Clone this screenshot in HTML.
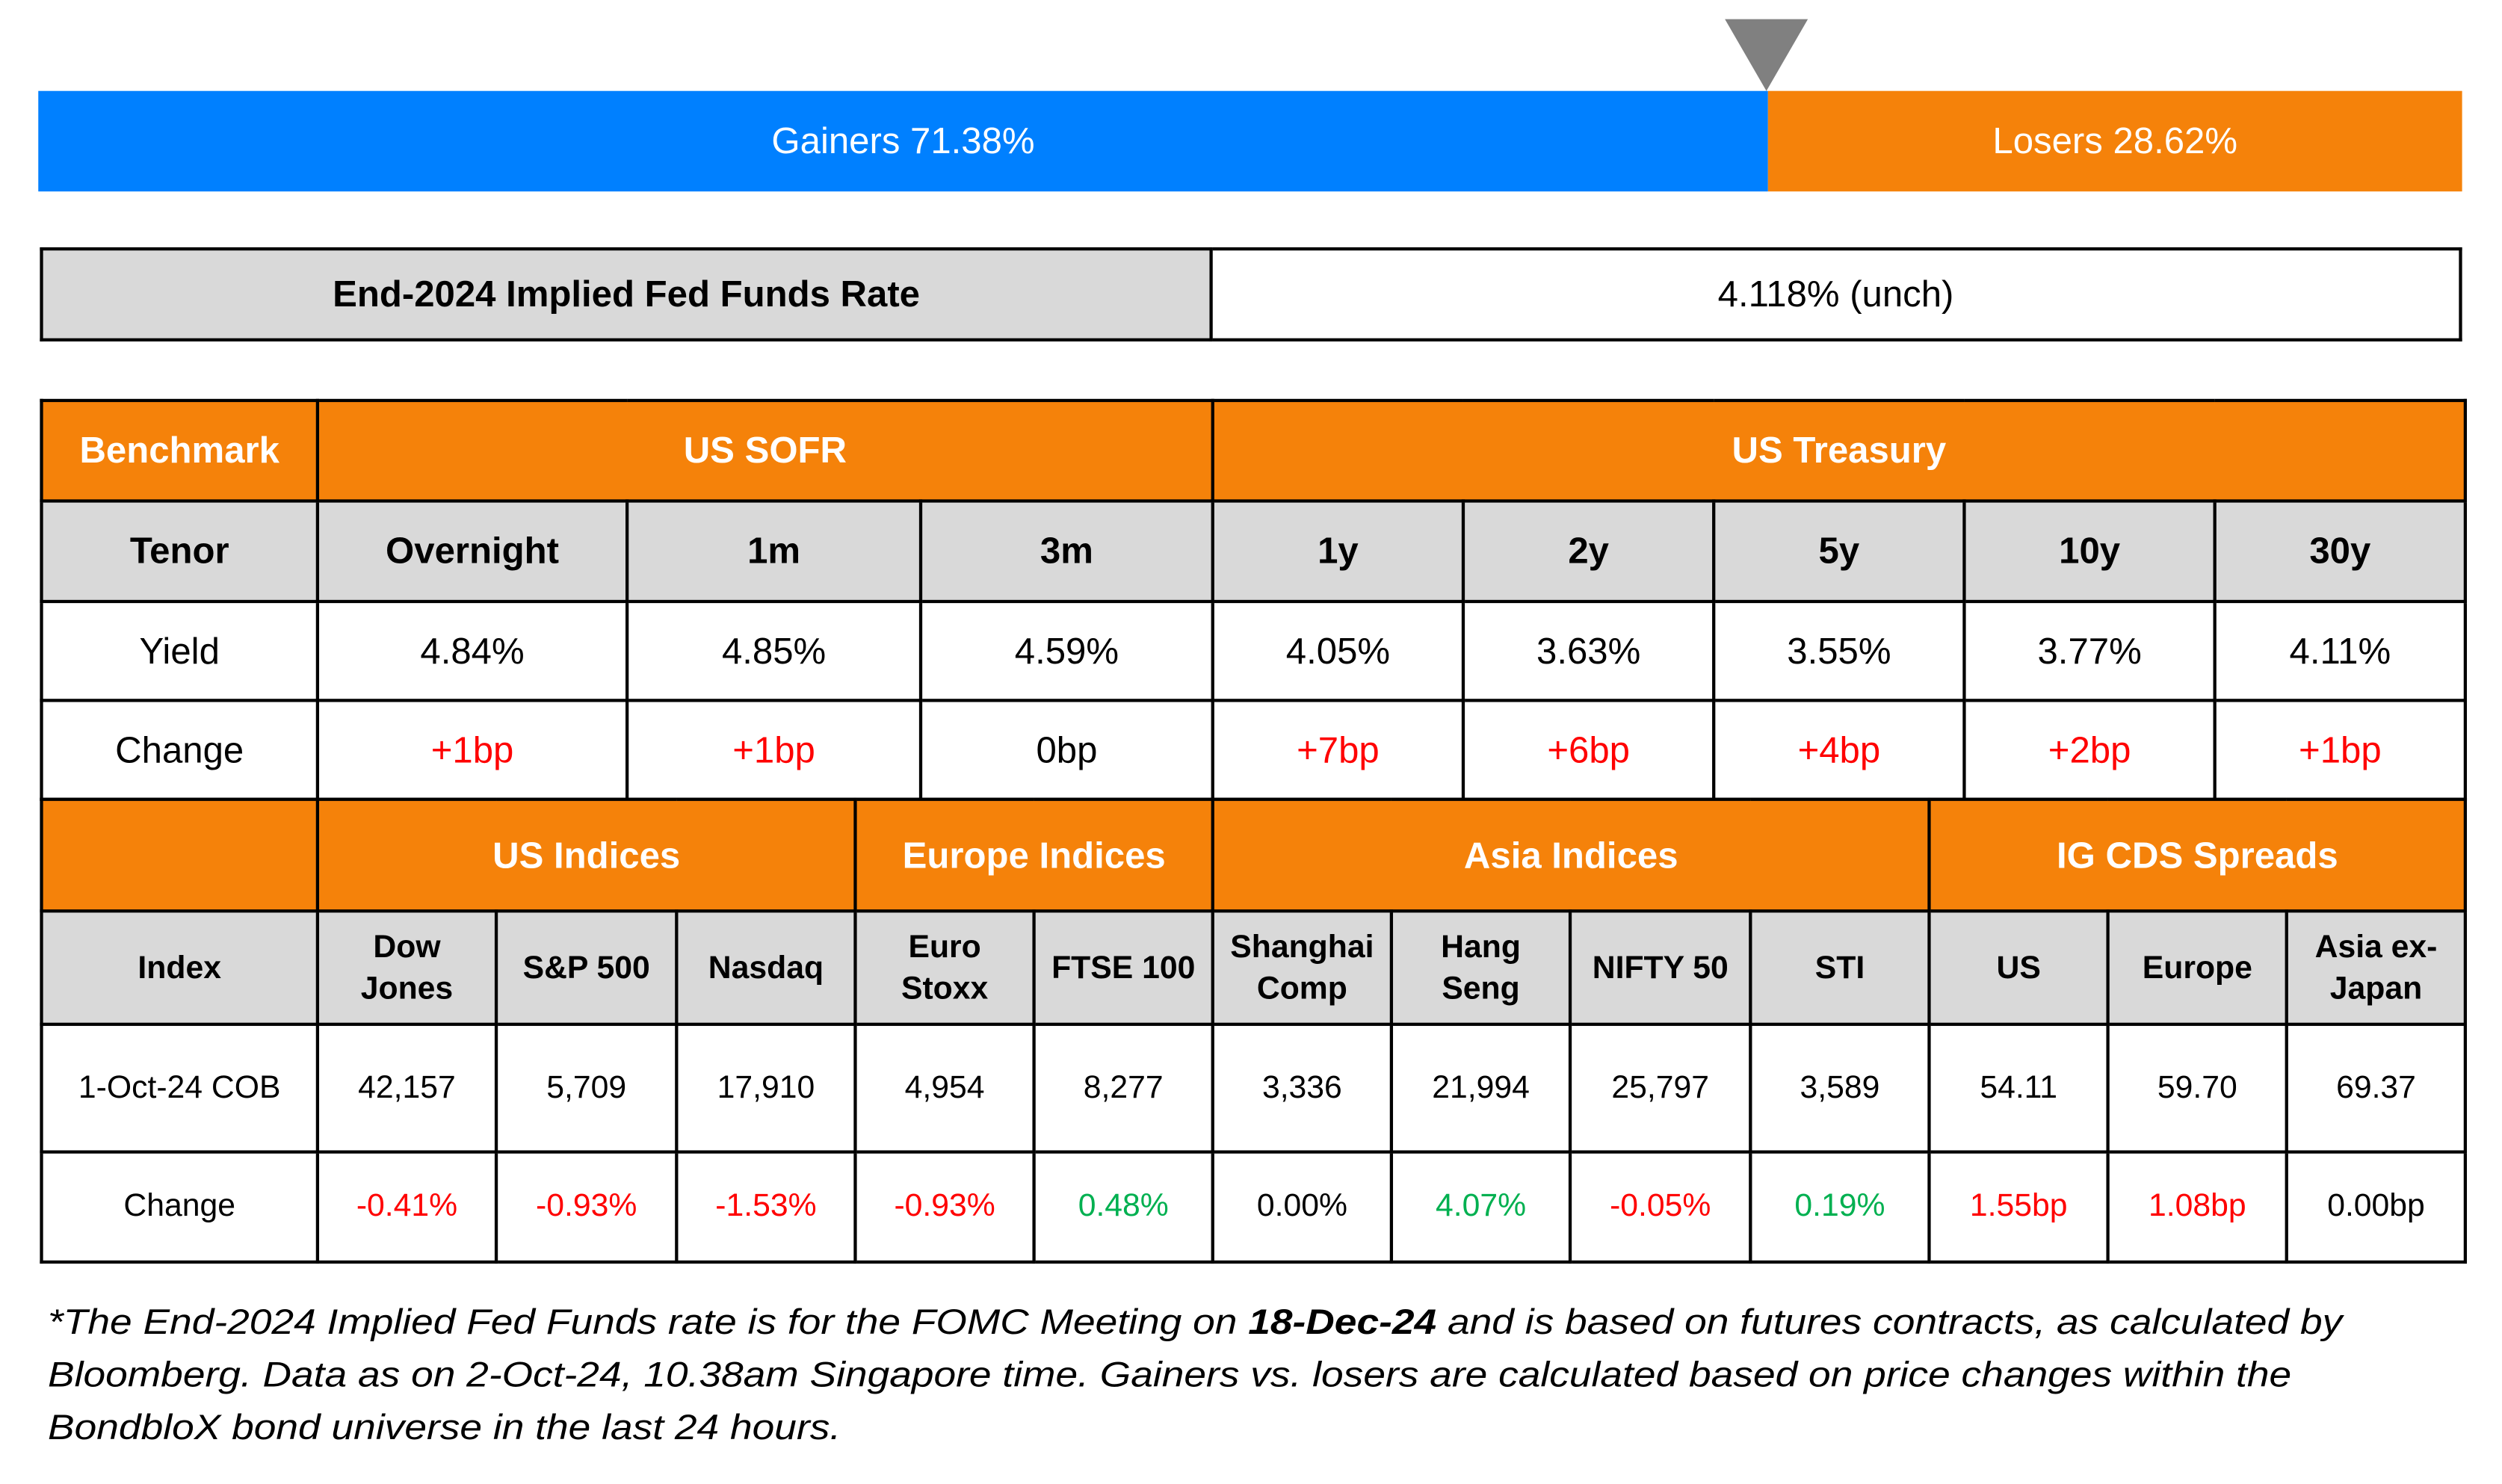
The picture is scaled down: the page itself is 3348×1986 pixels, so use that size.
<!DOCTYPE html>
<html><head><meta charset="utf-8"><style>
html,body{margin:0;padding:0;background:#fff;}
body{width:3348px;height:1984px;overflow:hidden;position:relative;}
#w{position:absolute;left:0;top:0;width:1568px;height:930px;transform:scale(2.1352);transform-origin:0 0;font-family:"Liberation Sans",sans-serif;}
.a{position:absolute;box-sizing:border-box;}
table{position:absolute;border-collapse:collapse;table-layout:fixed;}
td{border:2px solid #000;text-align:center;padding:0;box-sizing:border-box;}
.o{background:#f5820a;color:#fff;font-weight:bold;font-size:23px;}
.g{background:#d9d9d9;font-weight:bold;}
.r{color:#f00;}.gr{color:#00b050;}
#t1 td{font-size:23px;}
#t2 td{font-size:20px;}
#t2 tr.g td{font-size:20px;line-height:1.3;}
#t2 tr.o td{font-size:23px;}
</style></head><body><div id="w">
<div class="a" style="left:24px;top:57px;width:1084px;height:63px;background:#0080ff;color:#fff;font-size:23px;line-height:63px;text-align:center;">Gainers 71.38%</div>
<div class="a" style="left:1108px;top:57px;width:435px;height:63px;background:#f5820a;color:#fff;font-size:23px;line-height:63px;text-align:center;">Losers 28.62%</div>
<div class="a" style="left:1081px;top:12px;width:0;height:0;border-left:26px solid transparent;border-right:26px solid transparent;border-top:45px solid #808080;"></div>
<table style="left:25px;top:155px;width:1518px;height:59px;">
<tr><td class="g" style="width:733px;font-size:23px;">End-2024 Implied Fed Funds Rate</td><td style="font-size:23px;">4.118% (unch)</td></tr></table>
<table id="t1" style="left:25px;top:250px;width:1519px;">
<colgroup><col style="width:173px"><col style="width:194px"><col style="width:184px"><col style="width:183px"><col style="width:157px"><col style="width:157px"><col style="width:157px"><col style="width:157px"><col style="width:157px"></colgroup>
<tr class="o" style="height:63px"><td>Benchmark</td><td colspan="3">US SOFR</td><td colspan="5">US Treasury</td></tr>
<tr class="g" style="height:63px"><td>Tenor</td><td>Overnight</td><td>1m</td><td>3m</td><td>1y</td><td>2y</td><td>5y</td><td>10y</td><td>30y</td></tr>
<tr style="height:62px"><td>Yield</td><td>4.84%</td><td>4.85%</td><td>4.59%</td><td>4.05%</td><td>3.63%</td><td>3.55%</td><td>3.77%</td><td>4.11%</td></tr>
<tr style="height:62px"><td>Change</td><td class="r">+1bp</td><td class="r">+1bp</td><td>0bp</td><td class="r">+7bp</td><td class="r">+6bp</td><td class="r">+4bp</td><td class="r">+2bp</td><td class="r">+1bp</td></tr>
</table>
<table id="t2" style="left:25px;top:500px;width:1519px;">
<colgroup><col style="width:173px"><col style="width:112px"><col style="width:113px"><col style="width:112px"><col style="width:112px"><col style="width:112px"><col style="width:112px"><col style="width:112px"><col style="width:113px"><col style="width:112px"><col style="width:112px"><col style="width:112px"><col style="width:112px"></colgroup>
<tr class="o" style="height:70px"><td></td><td colspan="3">US Indices</td><td colspan="2">Europe Indices</td><td colspan="4">Asia Indices</td><td colspan="3">IG CDS Spreads</td></tr>
<tr class="g" style="height:71px"><td>Index</td><td>Dow<br>Jones</td><td>S&amp;P 500</td><td>Nasdaq</td><td>Euro<br>Stoxx</td><td>FTSE 100</td><td>Shanghai<br>Comp</td><td>Hang<br>Seng</td><td>NIFTY 50</td><td>STI</td><td>US</td><td>Europe</td><td>Asia ex-<br>Japan</td></tr>
<tr style="height:80px"><td>1-Oct-24 COB</td><td>42,157</td><td>5,709</td><td>17,910</td><td>4,954</td><td>8,277</td><td>3,336</td><td>21,994</td><td>25,797</td><td>3,589</td><td>54.11</td><td>59.70</td><td>69.37</td></tr>
<tr style="height:69px"><td>Change</td><td class="r">-0.41%</td><td class="r">-0.93%</td><td class="r">-1.53%</td><td class="r">-0.93%</td><td class="gr">0.48%</td><td>0.00%</td><td class="gr">4.07%</td><td class="r">-0.05%</td><td class="gr">0.19%</td><td class="r">1.55bp</td><td class="r">1.08bp</td><td>0.00bp</td></tr>
</table>
<div class="a" style="left:30px;top:812px;font-size:22px;font-style:italic;line-height:33px;white-space:nowrap;transform:scaleX(1.135);transform-origin:0 0;">*The End-2024 Implied Fed Funds rate is for the FOMC Meeting on <b>18-Dec-24</b> and is based on futures contracts, as calculated by<br>Bloomberg. Data as on 2-Oct-24, 10.38am Singapore time. Gainers vs. losers are calculated based on price changes within the<br>BondbloX bond universe in the last 24 hours.</div>
</div></body></html>
